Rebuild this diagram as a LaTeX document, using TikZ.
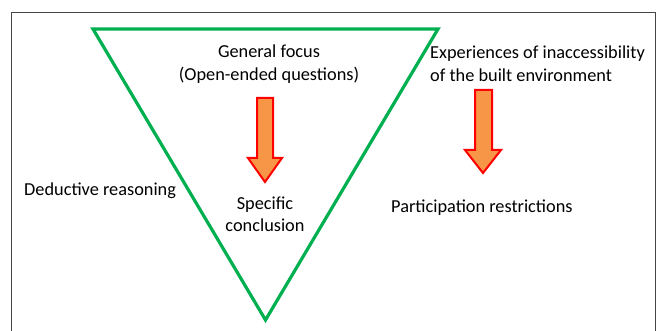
\documentclass[tikz,border=0pt]{standalone}
\usepackage{fontspec}
\setmainfont{Carlito}
\definecolor{tgreen}{RGB}{0,176,80}
\definecolor{aorange}{RGB}{247,150,70}
\definecolor{framegray}{RGB}{70,70,70}
\begin{document}
\begin{tikzpicture}[x=1pt,y=-1pt,
  lbl/.style={inner sep=0pt,font=\fontsize{18.3}{22.5}\selectfont,align=center},
  lblleft/.style={lbl,align=left,anchor=west},
  tri/.style={draw=tgreen,line width=3.2pt,line join=miter},
  bigarrow/.style={draw=red,fill=aorange,line width=2pt,line join=miter}]
\useasboundingbox (0,0) rectangle (657,331);
\draw[framegray,line width=0.9pt] (11.5,340) -- (11.5,12.7) -- (655,12.7) -- (655,340);
% triangle
\coordinate (tl) at (93,29);
\coordinate (tr) at (438,29);
\coordinate (bt) at (265.5,320);
\draw[tri] (tl) -- (tr) -- (bt) -- cycle;
% texts
\node[lbl] (gen) at (269,64) {General focus\\(Open-ended questions)};
\node[lbl] (spec) at (265,214) {Specific\\conclusion};
\node[lblleft] (ded) at (24,191) {Deductive reasoning};
\node[lblleft,anchor=north west] (exp) at (430,46) {Experiences of inaccessibility\\of the built environment};
\node[lblleft] (part) at (391,208) {Participation restrictions};
% arrow 1
\draw[bigarrow] (257,98) -- (273,98) -- (273,158) -- (282,158) -- (265,182) -- (248,158) -- (257,158) -- cycle;
% arrow 2
\draw[bigarrow] (475,90) -- (492,90) -- (492,150) -- (501,150) -- (483,173) -- (465,150) -- (475,150) -- cycle;
\end{tikzpicture}
\end{document}
